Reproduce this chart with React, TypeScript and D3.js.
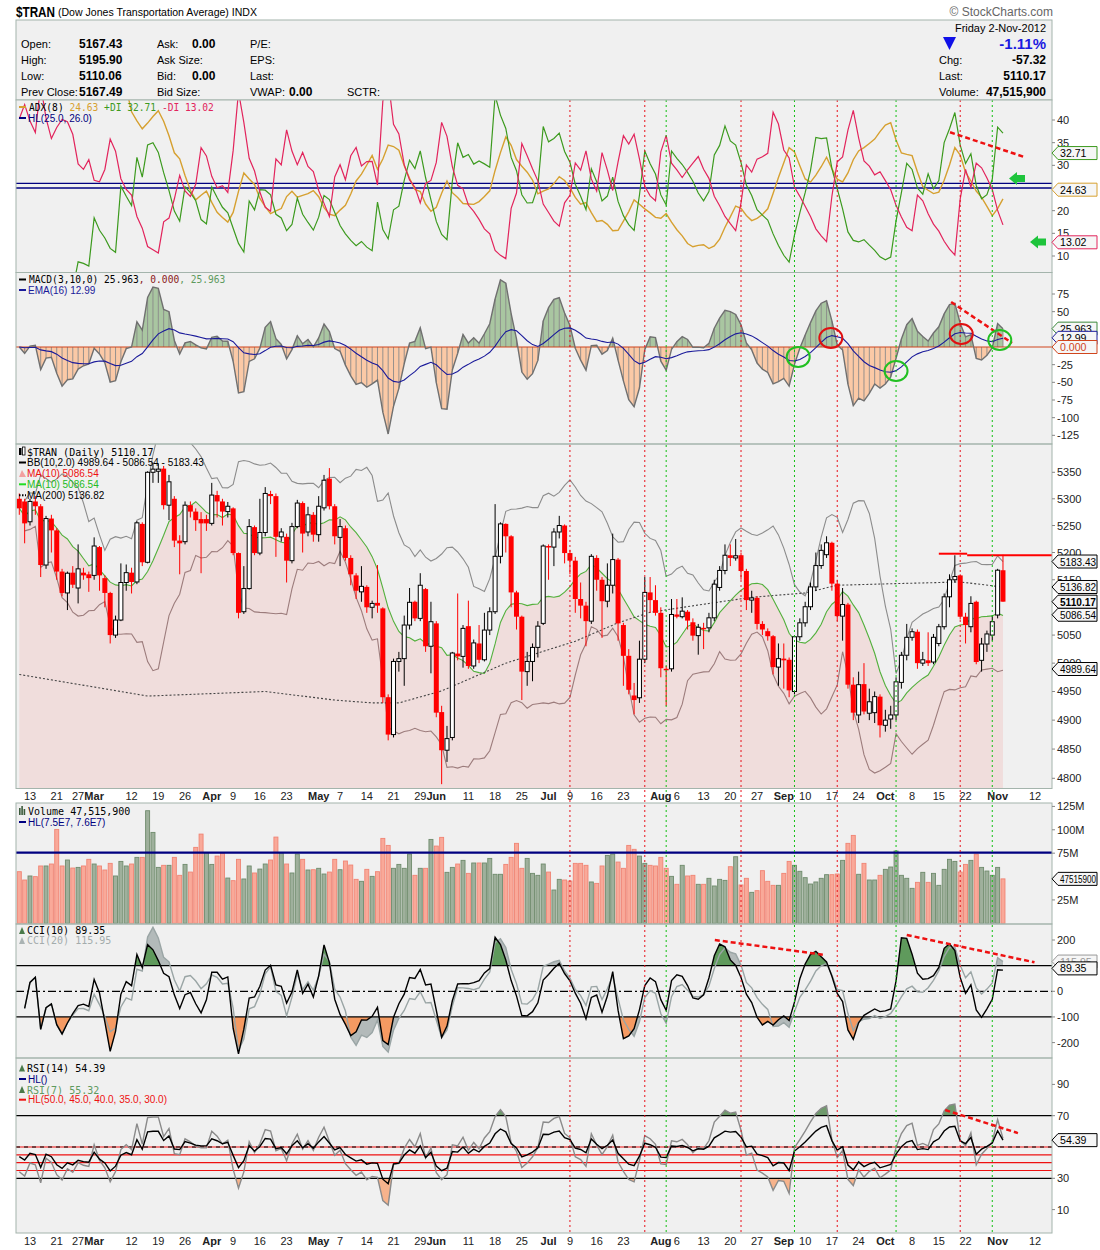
import React from "react";
import * as d3 from "d3";

// ---------- data (trading day index: 0 = 13-Feb-2012, first entry = day -2) ----------
const FIRST_DAY = -2;

const opens = [
  5300, 5295, 5257, 5295, 5286, 5177, 5263, 5241, 5165, 5126,
  5163, 5135, 5163, 5160, 5158, 5210, 5153, 5126, 5050, 5077,
  5145, 5163, 5146, 5253, 5182, 5350, 5352, 5357, 5288, 5300,
  5222, 5220, 5288, 5276, 5262, 5262, 5254, 5307, 5295, 5276,
  5282, 5199, 5092, 5134, 5247, 5199, 5237, 5309, 5305, 5229,
  5229, 5185, 5248, 5292, 5238, 5270, 5233, 5283, 5338, 5286,
  5228, 5245, 5190, 5158, 5128, 5137, 5100, 5108, 5098, 4940,
  4875, 5003, 5008, 5068, 5110, 5080, 5133, 5030, 5071, 4914,
  4848, 4870, 5017, 5012, 5066, 4995, 5035, 5006, 5059, 5092,
  5193, 5253, 5230, 5127, 5083, 4985, 5003, 5028, 5071, 5212,
  5210, 5238, 5250, 5199, 5185, 5115, 5103, 5075, 5190, 5150,
  5111, 5140, 5187, 5068, 5013, 4943, 4939, 5007, 5127, 5113,
  5090, 4990, 4990, 5087, 5083, 5092, 5073, 5049, 5063, 5063,
  5081, 5136, 5167, 5195, 5190, 5195, 5166, 5113, 5117, 5070,
  5057, 5048, 4993, 5008, 5006, 4950, 5047, 5072, 5101, 5137,
  5176, 5196, 5218, 5143, 5084, 5105, 4962, 4909, 4963, 4912,
  4913, 4941, 4891, 4902, 4909, 4966, 5014, 5046, 5056, 5000,
  5005, 5002, 5035, 5065, 5119, 5150, 5158, 5083, 5065, 5110,
  5005, 5034, 5050, 5086, 5167.43,
];

const closes = [
  5282, 5254, 5295, 5286, 5177, 5263, 5241, 5165, 5126, 5162,
  5141, 5170, 5158, 5153, 5212, 5158, 5126, 5050, 5077, 5145,
  5163, 5146, 5255, 5182, 5350, 5356, 5356, 5288, 5332, 5222,
  5217, 5288, 5276, 5260, 5254, 5254, 5307, 5295, 5276, 5286,
  5199, 5090, 5134, 5248, 5199, 5237, 5310, 5305, 5229, 5238,
  5185, 5248, 5292, 5235, 5270, 5233, 5286, 5335, 5286, 5230,
  5248, 5190, 5160, 5130, 5138, 5100, 5107, 5103, 4940, 4875,
  5003, 5008, 5068, 5109, 5080, 5140, 5030, 5074, 4913, 4848,
  4868, 5018, 5012, 5062, 4995, 5036, 5006, 5059, 5092, 5193,
  5253, 5230, 5127, 5083, 4985, 5003, 5028, 5066, 5212, 5210,
  5238, 5250, 5199, 5185, 5115, 5103, 5075, 5193, 5150, 5111,
  5140, 5187, 5071, 5013, 4953, 4935, 5007, 5127, 5113, 5090,
  4991, 4988, 5087, 5083, 5093, 5076, 5049, 5064, 5061, 5081,
  5142, 5167, 5195, 5190, 5194, 5166, 5113, 5117, 5070, 5060,
  5048, 4993, 5008, 5005, 4952, 5047, 5072, 5101, 5137, 5176,
  5204, 5218, 5143, 5084, 5105, 4962, 4913, 4962, 4915, 4932,
  4941, 4891, 4900, 4909, 4967, 5014, 5046, 5056, 5000, 5006,
  5000, 5046, 5065, 5119, 5150, 5156, 5083, 5068, 5107, 5002,
  5034, 5052, 5074, 5167.49, 5110.17,
];

const highs = [
  5310, 5300, 5300, 5305, 5290, 5268, 5270, 5245, 5170, 5165,
  5175, 5215, 5172, 5165, 5228, 5212, 5158, 5128, 5085, 5180,
  5178, 5172, 5258, 5256, 5352, 5368, 5366, 5362, 5345, 5305,
  5232, 5295, 5295, 5282, 5275, 5270, 5330, 5315, 5300, 5294,
  5284, 5200, 5175, 5262, 5250, 5300, 5322, 5315, 5310, 5245,
  5235, 5255, 5298, 5295, 5285, 5275, 5305, 5345, 5358, 5290,
  5262, 5250, 5195, 5162, 5175, 5140, 5112, 5177, 5100, 4945,
  5008, 5020, 5085, 5135, 5112, 5162, 5135, 5110, 5075, 4925,
  4890, 5020, 5125, 5068, 5112, 5042, 5068, 5090, 5100, 5290,
  5256, 5254, 5232, 5130, 5085, 5020, 5035, 5075, 5215, 5215,
  5245, 5268, 5252, 5205, 5192, 5145, 5110, 5197, 5195, 5155,
  5180, 5235, 5190, 5072, 5025, 4965, 5040, 5155, 5155, 5140,
  5100, 4995, 5115, 5115, 5118, 5095, 5080, 5070, 5072, 5090,
  5150, 5175, 5215, 5215, 5225, 5200, 5170, 5130, 5120, 5075,
  5062, 5050, 5035, 5035, 5010, 5050, 5080, 5110, 5145, 5200,
  5215, 5230, 5220, 5150, 5135, 5108, 4975, 4985, 5000, 4955,
  4950, 4945, 4918, 4925, 4975, 5020, 5070, 5062, 5060, 5020,
  5055, 5052, 5070, 5125, 5160, 5195, 5160, 5090, 5120, 5112,
  5045, 5058, 5085, 5170, 5195.9,
];

const lows = [
  5270, 5217, 5250, 5270, 5155, 5170, 5200, 5150, 5120, 5095,
  5135, 5107, 5150, 5128, 5150, 5130, 5100, 5035, 5045, 5075,
  5130, 5125, 5142, 5175, 5180, 5330, 5330, 5280, 5260, 5210,
  5160, 5215, 5265, 5240, 5162, 5240, 5250, 5265, 5250, 5265,
  5195, 5080, 5088, 5132, 5195, 5195, 5230, 5290, 5192, 5220,
  5145, 5180, 5245, 5200, 5230, 5220, 5220, 5278, 5280, 5215,
  5175, 5185, 5140, 5115, 5110, 5090, 5080, 5090, 4930, 4865,
  4870, 4985, 4960, 5060, 5075, 5075, 5020, 4982, 4905, 4790,
  4828, 4865, 5005, 4992, 4990, 4990, 5000, 5003, 5050, 5088,
  5180, 5200, 5100, 5060, 4935, 4960, 4968, 5010, 5068, 5150,
  5175, 5226, 5180, 5160, 5090, 5080, 5030, 5070, 5130, 5045,
  5100, 5125, 5040, 4960, 4945, 4910, 4930, 5000, 5090, 5085,
  4975, 4925, 4985, 5080, 5080, 5060, 5040, 5015, 5025, 5055,
  5075, 5130, 5160, 5175, 5185, 5150, 5095, 5090, 5060, 5050,
  5040, 4980, 4960, 4955, 4940, 4945, 5040, 5065, 5095, 5130,
  5170, 5190, 5130, 5075, 5040, 4955, 4900, 4895, 4910, 4900,
  4895, 4870, 4880, 4885, 4900, 4955, 5005, 5040, 4990, 4995,
  4995, 4998, 5030, 5060, 5100, 5145, 5078, 5035, 5055, 4998,
  4985, 5020, 5040, 5080, 5110.06,
];

// volume in millions of shares
const volumesM = [
  55.2, 46.3, 50.6, 49.9, 61.3, 61.3, 63.4, 100.4, 61.3, 67.7,
  59.1, 59.8, 61.3, 68.4, 63.4, 61.3, 57.0, 64.1, 50.6, 66.2,
  61.3, 63.4, 70.5, 70.5, 120.4, 97.2, 59.8, 62.0, 62.0, 70.5,
  51.3, 63.0, 54.8, 81.2, 95.4, 75.5, 63.0, 71.9, 74.8, 48.4,
  45.6, 68.4, 47.4, 61.3, 53.8, 58.0, 63.4, 67.7, 92.2, 75.5,
  63.4, 53.8, 74.1, 68.4, 57.0, 57.3, 58.8, 52.7, 54.8, 68.4,
  57.3, 66.6, 62.3, 47.0, 44.9, 57.7, 50.2, 55.2, 90.8, 83.3,
  58.8, 63.0, 58.8, 74.1, 51.3, 58.8, 58.8, 89.7, 82.6, 91.9,
  54.5, 59.8, 63.4, 67.3, 53.4, 64.5, 64.5, 64.5, 69.4, 52.4,
  52.4, 63.0, 70.5, 85.5, 58.8, 69.4, 53.4, 51.3, 63.4, 54.8,
  35.6, 47.0, 46.3, 45.2, 64.1, 64.1, 62.0, 44.2, 42.7, 61.3,
  72.6, 74.1, 65.5, 58.8, 83.3, 79.1, 71.9, 64.1, 62.0, 61.3,
  70.5, 58.8, 50.2, 41.7, 62.0, 50.6, 51.3, 41.7, 41.7, 48.1,
  39.9, 47.0, 45.9, 60.5, 71.2, 41.0, 48.1, 33.1, 34.9, 56.3,
  44.9, 40.6, 40.6, 53.4, 66.2, 62.0, 55.6, 48.8, 42.0, 44.2,
  48.1, 52.0, 52.0, 52.7, 67.3, 85.5, 94.0, 52.4, 64.1, 46.3,
  46.3, 51.3, 57.7, 60.2, 77.3, 51.3, 48.1, 37.4, 43.8, 54.5,
  43.8, 53.4, 40.6, 57.7, 68.4, 66.2, 54.8, 63.0, 67.3, 74.1,
  59.8, 55.9, 51.3, 59.8, 47.5,
];

const ma200Days = [-2, 22, 44, 57, 64, 69, 77, 89, 102, 110, 116, 127, 135, 145, 151, 162, 174, 182];
const ma200Values = [4980, 4942, 4950, 4935, 4930, 4930, 4951, 5000, 5039, 5072, 5091, 5107, 5118, 5126, 5140, 5143, 5146, 5136.82];

const tickDays = [0, 5, 9, 12, 19, 24, 29, 34, 38, 43, 48, 54, 58, 63, 68, 73, 76, 82, 87, 92, 97, 101, 106, 111, 118, 121, 126, 131, 136, 141, 145, 150, 155, 160, 165, 170, 175, 181, 188];
const tickLabels = ["13", "21", "27", "Mar", "12", "19", "26", "Apr", "9", "16", "23", "May", "7", "14", "21", "29", "Jun", "11", "18", "25", "Jul", "9", "16", "23", "Aug", "6", "13", "20", "27", "Sep", "10", "17", "24", "Oct", "8", "15", "22", "Nov", "12"];

const redMarkerDays = [101, 115, 133, 151, 174];
const greenMarkerDays = [119, 143, 162, 180];

// right-axis tick labels that are not covered by value boxes
const adxTicks = [10, 15, 20, 30, 35, 40];
const macdTicks = [75, 50, -25, -50, -75, -100, -125];
const priceTicks = [5350, 5300, 5250, 5200, 5150, 5050, 5000, 4950, 4900, 4850, 4800];
const volTicks = [25, 75, 100, 125];
const cciTicks = [200, 0, -100, -200];
const rsiTicks = [10, 30, 70, 90];

// ---------- indicator helpers ----------
function rollMean(a: number[], n: number) {
  return a.map((_, i) => d3.mean(a.slice(Math.max(0, i - n + 1), i + 1)) as number);
}
function rollStd(a: number[], n: number) {
  return a.map((_, i) => {
    const w = a.slice(Math.max(0, i - n + 1), i + 1);
    const m = d3.mean(w) as number;
    return Math.sqrt(d3.mean(w.map((v) => (v - m) ** 2)) as number);
  });
}
function ema(a: number[], n: number) {
  const k = 2 / (n + 1);
  const out: number[] = [];
  a.forEach((v, i) => out.push(i === 0 ? v : v * k + out[i - 1] * (1 - k)));
  return out;
}
function rsi(c: number[], n: number) {
  const ch = c.map((v, i) => (i === 0 ? 0 : v - c[i - 1]));
  let ag = d3.mean(ch.slice(1, n + 1).map((d) => Math.max(d, 0))) as number;
  let al = d3.mean(ch.slice(1, n + 1).map((d) => Math.max(-d, 0))) as number;
  const out: number[] = [];
  ch.forEach((d, i) => {
    if (i > 0) {
      ag = (ag * (n - 1) + Math.max(d, 0)) / n;
      al = (al * (n - 1) + Math.max(-d, 0)) / n;
    }
    out.push(al === 0 ? 100 : 100 - 100 / (1 + ag / al));
  });
  return out;
}
function cci(tp: number[], n: number) {
  return tp.map((v, i) => {
    const w = tp.slice(Math.max(0, i - n + 1), i + 1);
    const m = d3.mean(w) as number;
    const md = d3.mean(w.map((t) => Math.abs(t - m))) as number;
    return md === 0 ? 0 : (v - m) / (0.015 * md);
  });
}
function dmi(h: number[], l: number[], c: number[], n: number) {
  const len = c.length;
  const tr: number[] = [], pdm: number[] = [], mdm: number[] = [];
  for (let i = 0; i < len; i++) {
    if (i === 0) { tr.push(h[0] - l[0]); pdm.push(0); mdm.push(0); continue; }
    tr.push(Math.max(h[i] - l[i], Math.abs(h[i] - c[i - 1]), Math.abs(l[i] - c[i - 1])));
    const up = h[i] - h[i - 1], dn = l[i - 1] - l[i];
    pdm.push(up > dn && up > 0 ? up : 0);
    mdm.push(dn > up && dn > 0 ? dn : 0);
  }
  let sT = (d3.mean(tr.slice(1, n + 1)) as number) * n;
  let sP = (d3.mean(pdm.slice(1, n + 1)) as number) * n;
  let sM = (d3.mean(mdm.slice(1, n + 1)) as number) * n;
  const plus: number[] = [], minus: number[] = [], dx: number[] = [];
  for (let i = 0; i < len; i++) {
    if (i > 0) { sT = sT - sT / n + tr[i]; sP = sP - sP / n + pdm[i]; sM = sM - sM / n + mdm[i]; }
    const p = (100 * sP) / sT, m = (100 * sM) / sT;
    plus.push(p); minus.push(m);
    dx.push(p + m ? (100 * Math.abs(p - m)) / (p + m) : 0);
  }
  let a = d3.mean(dx.slice(1, n + 1)) as number;
  const adxv: number[] = [];
  dx.forEach((d, i) => { if (i > 0) a = (a * (n - 1) + d) / n; adxv.push(a); });
  return { plus, minus, adx: adxv };
}

// ---------- styles ----------
const mono = "'DejaVu Sans Mono', monospace";
const sans = "'Liberation Sans', Arial, sans-serif";
const BORDER = "#a4b4ac";
const PANEL_BG = "#f0f0f0";
const L = 16, R = 1052;

function ValBox(props: { y: number; text: string; stroke: string; color?: string; fill?: string; bold?: boolean }) {
  const { y, text, stroke, color = "#000", fill = "#f6f6f6", bold } = props;
  const tl = Math.min(text.length * 5.3, 36);
  return (
    <g>
      <path d={`M${R},${y} L${R + 6},${y - 6.5} L1097,${y - 6.5} L1097,${y + 6.5} L${R + 6},${y + 6.5} Z`} fill={fill} stroke={stroke} strokeWidth={1} />
      <text x={R + 8} y={y + 4} fontSize={11} fontFamily={sans} fill={color} fontWeight={bold ? "bold" : "normal"}
        textLength={tl} lengthAdjust="spacingAndGlyphs">{text}</text>
    </g>
  );
}

export default function App() {
  const days = closes.map((_, k) => k + FIRST_DAY);
  const x = d3.scaleLinear().domain([0, 188]).range([30, 30 + 188 * 5.346]);
  const P = {
    adx: [100, 272.5], macd: [272.5, 444], price: [444, 788.5],
    vol: [803, 924], cci: [924, 1058], rsi: [1058, 1233],
  } as Record<string, number[]>;

  const yAdx = d3.scaleLinear().domain([10, 40]).range([256, 120]);
  const yMacd = d3.scaleLinear().domain([0, 75]).range([347, 294]);
  const yPrice = d3.scaleLog().domain([4800, 5350]).range([778.3, 472.3]);
  const yVol = d3.scaleLinear().domain([0, 75.5]).range([923.3, 852.7]);
  const yCci = d3.scaleLinear().domain([0, 100]).range([991.3, 965.65]);
  const yRsi = d3.scaleLinear().domain([30, 70]).range([1178.3, 1115.7]);

  // indicators
  const ma10 = rollMean(closes, 10);
  const sd10 = rollStd(closes, 10);
  const bbU = ma10.map((m, i) => m + 2 * sd10[i]);
  const bbL = ma10.map((m, i) => m - 2 * sd10[i]);
  const e3 = ema(closes, 3), e10 = ema(closes, 10);
  const macd = e3.map((v, i) => v - e10[i]);
  const macdEma = ema(macd, 16);
  const { plus, minus, adx } = dmi(highs, lows, closes, 8);
  const tp = closes.map((c, i) => (highs[i] + lows[i] + c) / 3);
  const cci10 = cci(tp, 10), cci20 = cci(tp, 20);
  const rsi14 = rsi(closes, 14), rsi7 = rsi(closes, 7);

  const line = (vals: number[], y: (v: number) => number, start = 0) =>
    d3.line<number>().defined((_, k) => k >= start).x((_, k) => x(days[k])).y((v) => y(v))(vals) || "";
  const band = (vals: number[], y: (v: number) => number, base: number) =>
    d3.area<number>().x((_, k) => x(days[k])).y0(y(base)).y1((v) => y(v))(vals) || "";

  const ma200Line = d3.line<number>().x((d) => x(d)).y((_, k) => yPrice(ma200Values[k]))(ma200Days) || "";
  const maArea = d3.area<number>().x((_, k) => x(days[k])).y0(P.price[1]).y1((v) => yPrice(v))(ma10) || "";

  const panel = (key: string) => (
    <rect key={key} x={L} y={P[key][0]} width={R - L} height={P[key][1] - P[key][0]} fill={PANEL_BG} stroke="none" />
  );
  const border = (key: string) => (
    <rect key={"b" + key} x={L} y={P[key][0]} width={R - L} height={P[key][1] - P[key][0]} fill="none" stroke={BORDER} strokeWidth={1} />
  );
  const axisLabels = (ticks: number[], y: (v: number) => number, fmt: (v: number) => string, key: string) =>
    ticks.map((t) => (
      <g key={key + t}>
        <line x1={R} x2={R + 3} y1={y(t)} y2={y(t)} stroke="#888" />
        <text x={R + 5} y={y(t) + 4} fontSize={11} fontFamily={sans} fill="#222">{fmt(t)}</text>
      </g>
    ));

  const dateLabels = (yy: number, key: string) =>
    tickDays.map((d, k) => {
      const isMonth = isNaN(Number(tickLabels[k]));
      return (
        <text key={key + k} x={x(d)} y={yy} fontSize={11} fontFamily={sans} textAnchor="middle" fontWeight={isMonth ? "bold" : "normal"} fill="#222">
          {tickLabels[k]}
        </text>
      );
    });

  const W = 1100, H = 1250;
  const cw = 5; // candle body width

  return (
    <div>
      <style>{"body{margin:0;background:#fff}"}</style>
      <svg width={W} height={H} viewBox={`0 0 ${W} ${H}`} style={{ display: "block" }}>
        <defs>
          {Object.keys(P).map((k) => (
            <clipPath id={"cp-" + k} key={k}>
              <rect x={L} y={P[k][0]} width={R - L} height={P[k][1] - P[k][0]} />
            </clipPath>
          ))}
          <clipPath id="cp-macd-pos"><rect x={L} y={P.macd[0]} width={R - L} height={yMacd(0) - P.macd[0]} /></clipPath>
          <clipPath id="cp-macd-neg"><rect x={L} y={yMacd(0)} width={R - L} height={P.macd[1] - yMacd(0)} /></clipPath>
          <clipPath id="cp-cci-up"><rect x={L} y={P.cci[0]} width={R - L} height={yCci(100) - P.cci[0]} /></clipPath>
          <clipPath id="cp-cci-dn"><rect x={L} y={yCci(-100)} width={R - L} height={P.cci[1] - yCci(-100)} /></clipPath>
          <clipPath id="cp-rsi-up"><rect x={L} y={P.rsi[0]} width={R - L} height={yRsi(70) - P.rsi[0]} /></clipPath>
          <clipPath id="cp-rsi-dn"><rect x={L} y={yRsi(30)} width={R - L} height={P.rsi[1] - yRsi(30)} /></clipPath>
        </defs>
        <rect x={0} y={0} width={W} height={H} fill="#fff" />

        {/* ---------- header ---------- */}
        <text x={16} y={17} fontSize={14} fontWeight="bold" fontFamily={sans} fill="#000" textLength={39} lengthAdjust="spacingAndGlyphs">$TRAN</text>
        <text x={58} y={16} fontSize={11} fontFamily={sans} fill="#000" textLength={199} lengthAdjust="spacingAndGlyphs">(Dow Jones Transportation Average) INDX</text>
        <text x={1053} y={16} fontSize={12} fontFamily={sans} fill="#666" textAnchor="end">© StockCharts.com</text>
        <rect x={L} y={20} width={R - L} height={80} fill={PANEL_BG} stroke={BORDER} />
        {[
          ["Open:", "5167.43", "Ask:", "0.00", "P/E:", ""],
          ["High:", "5195.90", "Ask Size:", "", "EPS:", ""],
          ["Low:", "5110.06", "Bid:", "0.00", "Last:", ""],
          ["Prev Close:", "5167.49", "Bid Size:", "", "VWAP:", "0.00"],
        ].map((row, r) => (
          <g key={"info" + r} fontFamily={sans} fontSize={11} fill="#000">
            <text x={21} y={48 + r * 16}>{row[0]}</text>
            <text x={79} y={48 + r * 16} fontWeight="bold" fontSize={12}>{row[1]}</text>
            <text x={157} y={48 + r * 16}>{row[2]}</text>
            <text x={192} y={48 + r * 16} fontWeight="bold" fontSize={12}>{row[3]}</text>
            <text x={250} y={48 + r * 16}>{row[4]}</text>
            <text x={289} y={48 + r * 16} fontWeight="bold" fontSize={12}>{row[5]}</text>
          </g>
        ))}
        <text x={347} y={96} fontFamily={sans} fontSize={11}>SCTR:</text>
        <text x={1046} y={32} fontFamily={sans} fontSize={11} textAnchor="end">Friday  2-Nov-2012</text>
        <path d="M943,37 L956,37 L949.5,50 Z" fill="#1010e8" />
        <text x={1046} y={49} fontFamily={sans} fontSize={15} fontWeight="bold" fill="#1a1ae0" textAnchor="end">-1.11%</text>
        {[["Chg:", "-57.32"], ["Last:", "5110.17"], ["Volume:", "47,515,900"]].map((r, k) => (
          <g key={"rinfo" + k} fontFamily={sans} fontSize={11}>
            <text x={939} y={64 + k * 16}>{r[0]}</text>
            <text x={1046} y={64 + k * 16} textAnchor="end" fontWeight="bold" fontSize={12}>{r[1]}</text>
          </g>
        ))}

        {/* ---------- panel backgrounds ---------- */}
        {Object.keys(P).map((k) => panel(k))}

        {/* ---------- ADX panel ---------- */}
        <g clipPath="url(#cp-adx)">
          <line x1={L} x2={R} y1={yAdx(25)} y2={yAdx(25)} stroke="#000080" strokeWidth={1.3} />
          <line x1={L} x2={R} y1={yAdx(26)} y2={yAdx(26)} stroke="#000080" strokeWidth={1.3} />
          <path d={line(adx, yAdx)} fill="none" stroke="#d6a030" strokeWidth={1.4} />
          <path d={line(plus, yAdx)} fill="none" stroke="#3c9a1e" strokeWidth={1.2} />
          <path d={line(minus, yAdx)} fill="none" stroke="#e2245c" strokeWidth={1.2} />
        </g>
        <g fontFamily={mono} fontSize={9.6}>
          <line x1={19} x2={26} y1={107} y2={107} stroke="#d6a030" strokeWidth={2} />
          <text x={29} y={110.5} fill="#000">ADX(8) <tspan fill="#d6a030">24.63</tspan> <tspan fill="#3c9a1e">+DI 32.71</tspan> <tspan fill="#e2245c">-DI 13.02</tspan></text>
        </g>
        <line x1={19} x2={26} y1={118} y2={118} stroke="#000080" strokeWidth={2} />
        <text x={28} y={121.5} fontFamily={sans} fontSize={10} fill="#000080">HL(25.0, 26.0)</text>

        {/* ---------- MACD panel ---------- */}
        <g clipPath="url(#cp-macd)">
          <g clipPath="url(#cp-macd-pos)"><path d={band(macd, yMacd, 0)} fill="#a9c6a1" /></g>
          <g clipPath="url(#cp-macd-neg)"><path d={band(macd, yMacd, 0)} fill="#fbc9a6" /></g>
          {macd.map((v, k) => (
            <line key={"mb" + k} x1={x(days[k])} x2={x(days[k])} y1={yMacd(0)} y2={yMacd(v)} stroke="#8a8a8a" strokeWidth={0.9} />
          ))}
          <line x1={L} x2={R} y1={yMacd(0)} y2={yMacd(0)} stroke="#d0451c" strokeWidth={1.2} />
          <path d={line(macd, yMacd)} fill="none" stroke="#707070" strokeWidth={1.4} />
          <path d={line(macdEma, yMacd)} fill="none" stroke="#1a1a9a" strokeWidth={1.1} />
        </g>
        <g fontFamily={mono} fontSize={9.6}>
          <line x1={19} x2={26} y1={279.5} y2={279.5} stroke="#000" strokeWidth={2} />
          <text x={29} y={283} fill="#000">MACD(3,10,0) 25.963<tspan fill="#8b1a1a">, 0.000</tspan><tspan fill="#5e9a5e">, 25.963</tspan></text>
        </g>
        <line x1={19} x2={26} y1={290} y2={290} stroke="#1a1a9a" strokeWidth={2} />
        <text x={28} y={293.5} fontFamily={sans} fontSize={10} fill="#1a1a9a">EMA(16) 12.99</text>

        {/* ---------- price panel ---------- */}
        <g clipPath="url(#cp-price)">
          <path d={maArea} fill="#f0dddc" />
          <path d={line(bbU, yPrice, 1)} fill="none" stroke="#8c8c8c" strokeWidth={1.1} />
          <path d={line(bbL, yPrice, 1)} fill="none" stroke="#9c7c7c" strokeWidth={1.1} />
          <path d={line(ma10, yPrice)} fill="none" stroke="#52b03c" strokeWidth={1.1} />
          <path d={ma200Line} fill="none" stroke="#444" strokeWidth={1.1} strokeDasharray="2,2" />
          {closes.map((c, k) => {
            const o = opens[k];
            const up = c >= o;
            const cx = x(days[k]);
            const col = up ? "#000" : "#ff0000";
            const top = yPrice(Math.max(o, c)), bot = yPrice(Math.min(o, c));
            return (
              <g key={"c" + k}>
                <line x1={cx} x2={cx} y1={yPrice(highs[k])} y2={yPrice(lows[k])} stroke={col} strokeWidth={1} />
                {up ? (
                  <rect x={cx - cw / 2 + 0.5} y={top} width={cw - 1} height={Math.max(bot - top, 1)} fill="#fff" stroke="#000" strokeWidth={1} />
                ) : (
                  <rect x={cx - cw / 2} y={top} width={cw} height={Math.max(bot - top, 1.5)} fill="#ff0000" />
                )}
              </g>
            );
          })}
          <line x1={x(170)} x2={x(175.3)} y1={yPrice(5197.8)} y2={yPrice(5197.8)} stroke="#f00" strokeWidth={2} />
          <line x1={x(175.3)} x2={R} y1={yPrice(5194.8)} y2={yPrice(5194.8)} stroke="#f00" strokeWidth={2} />
        </g>
        <g fontSize={10}>
          <rect x={19} y={448} width={2.5} height={7} fill="#000" />
          <rect x={22.5} y={447} width={2.5} height={8} fill="#fff" stroke="#000" strokeWidth={0.8} />
          <text x={27} y={455.5} fontFamily={mono} fontSize={10} fill="#000">$TRAN (Daily) 5110.17</text>
          <line x1={19} x2={26} y1={462.5} y2={462.5} stroke="#000" strokeWidth={2} />
          <text x={27} y={466} fontFamily={sans} fill="#000">BB(10,2.0) 4989.64 - 5086.54 - 5183.43</text>
          <path d="M19,477 L22,470 L26,477 Z" fill="#f2a0a0" />
          <text x={27} y={477} fontFamily={sans} fill="#ee1111">MA(10) 5086.54</text>
          <line x1={19} x2={26} y1={484.3} y2={484.3} stroke="#22dd22" strokeWidth={2} />
          <text x={27} y={488} fontFamily={sans} fill="#22bb22">MA(10) 5086.54</text>
          <line x1={19} x2={26} y1={495.3} y2={495.3} stroke="#000" strokeWidth={2} strokeDasharray="1.5,1.5" />
          <text x={27} y={499} fontFamily={sans} fill="#000">MA(200) 5136.82</text>
        </g>

        {/* ---------- volume panel ---------- */}
        <g clipPath="url(#cp-vol)">
          {volumesM.map((v, k) => {
            const upDay = k === 0 ? closes[k] >= opens[k] : closes[k] >= closes[k - 1];
            const cx = x(days[k]);
            return (
              <rect key={"v" + k} x={cx - 2} y={yVol(v)} width={4} height={yVol(0) - yVol(v)}
                fill={upDay ? "#9fb09c" : "#f9a999"} stroke={upDay ? "#6f8b6c" : "#f08474"} strokeWidth={0.9} />
            );
          })}
          <line x1={L} x2={R} y1={yVol(75)} y2={yVol(75)} stroke="#000080" strokeWidth={1.3} />
          <line x1={L} x2={R} y1={yVol(76)} y2={yVol(76)} stroke="#000080" strokeWidth={1.3} />
        </g>
        <g>
          <rect x={19} y={808} width={1.6} height={7} fill="#3a5a3a" />
          <rect x={21.3} y={806} width={1.6} height={9} fill="#3a5a3a" />
          <rect x={23.6} y={809} width={1.6} height={6} fill="#3a5a3a" />
          <text x={28} y={814.5} fontFamily={mono} fontSize={10} fill="#000">Volume 47,515,900</text>
          <line x1={19} x2={26} y1={822} y2={822} stroke="#000080" strokeWidth={2} />
          <text x={28} y={825.5} fontFamily={sans} fontSize={10} fill="#000080">HL(7.5E7, 7.6E7)</text>
        </g>

        {/* ---------- CCI panel ---------- */}
        <g clipPath="url(#cp-cci)">
          <g clipPath="url(#cp-cci-up)">
            <path d={band(cci20, yCci, 100)} fill="#b3baba" />
            <path d={band(cci10, yCci, 100)} fill="#5f9a5c" />
          </g>
          <g clipPath="url(#cp-cci-dn)">
            <path d={band(cci20, yCci, -100)} fill="#b3baba" />
            <path d={band(cci10, yCci, -100)} fill="#f59a62" />
          </g>
          <line x1={L} x2={R} y1={yCci(100)} y2={yCci(100)} stroke="#000" strokeWidth={1.2} />
          <line x1={L} x2={R} y1={yCci(-100)} y2={yCci(-100)} stroke="#000" strokeWidth={1.2} />
          <line x1={L} x2={R} y1={yCci(0)} y2={yCci(0)} stroke="#000" strokeWidth={1.2} strokeDasharray="8,3,2,3" />
          <path d={line(cci20, yCci, 1)} fill="none" stroke="#9aa5a5" strokeWidth={1.4} />
          <path d={line(cci10, yCci, 1)} fill="none" stroke="#000" strokeWidth={1.4} />
        </g>
        <g>
          <path d="M19,934 L22,927 L25,934 Z" fill="#4a7a4a" />
          <text x={27} y={934} fontFamily={mono} fontSize={10} fill="#000">CCI(10) 89.35</text>
          <path d="M19,944 L22,937 L25,944 Z" fill="#aab3b3" />
          <text x={27} y={944} fontFamily={mono} fontSize={10} fill="#a4acac">CCI(20) 115.95</text>
        </g>

        {/* ---------- RSI panel ---------- */}
        <g clipPath="url(#cp-rsi)">
          <g clipPath="url(#cp-rsi-up)">
            <path d={band(rsi7, yRsi, 70)} fill="#6f9a6c" />
            <path d={band(rsi14, yRsi, 70)} fill="#6f9a6c" />
          </g>
          <g clipPath="url(#cp-rsi-dn)">
            <path d={band(rsi7, yRsi, 30)} fill="#f7b38c" />
            <path d={band(rsi14, yRsi, 30)} fill="#f7b38c" />
          </g>
          {[50, 45, 40, 35].map((v) => (
            <line key={"rl" + v} x1={L} x2={R} y1={yRsi(v)} y2={yRsi(v)} stroke="#ee1111" strokeWidth={1.2} />
          ))}
          <line x1={L} x2={R} y1={yRsi(70)} y2={yRsi(70)} stroke="#000" strokeWidth={1.2} />
          <line x1={L} x2={R} y1={yRsi(30)} y2={yRsi(30)} stroke="#000" strokeWidth={1.2} />
          <line x1={L} x2={R} y1={yRsi(50)} y2={yRsi(50)} stroke="#000" strokeWidth={1.2} strokeDasharray="4,4" />
          <path d={line(rsi7, yRsi)} fill="none" stroke="#8a8a8a" strokeWidth={1.4} />
          <path d={line(rsi14, yRsi)} fill="none" stroke="#000" strokeWidth={1.4} />
        </g>
        <g fontSize={10}>
          <path d="M19,1071.5 L22,1064.5 L25,1071.5 Z" fill="#4a7a4a" />
          <text x={27} y={1072} fontFamily={mono} fill="#000">RSI(14) 54.39</text>
          <line x1={19} x2={26} y1={1079} y2={1079} stroke="#000080" strokeWidth={2} />
          <text x={28} y={1082.5} fontFamily={sans} fill="#000080">HL()</text>
          <path d={"M19,1093 L22,1086 L25,1093 Z"} fill="#4a7a4a" />
          <text x={27} y={1093.5} fontFamily={mono} fill="#5e9a5e">RSI(7) 55.32</text>
          <line x1={19} x2={26} y1={1099.7} y2={1099.7} stroke="#ee1111" strokeWidth={2} />
          <text x={28} y={1103.2} fontFamily={sans} fill="#ee1111">HL(50.0, 45.0, 40.0, 35.0, 30.0)</text>
        </g>

        {/* ---------- vertical event markers ---------- */}
        {redMarkerDays.map((d) => (
          <line key={"rm" + d} x1={x(d)} x2={x(d)} y1={P.adx[0]} y2={P.rsi[1]} stroke="#e8101a" strokeWidth={1} strokeDasharray="2,3" />
        ))}
        {greenMarkerDays.map((d) => (
          <line key={"gm" + d} x1={x(d)} x2={x(d)} y1={P.adx[0]} y2={P.rsi[1]} stroke="#10c010" strokeWidth={1} strokeDasharray="2,3" />
        ))}

        {/* ---------- annotations ---------- */}
        <line x1={x(172.1)} y1={yAdx(37.3)} x2={x(186.1)} y2={yAdx(31.8)} stroke="#ee1111" strokeWidth={2.5} strokeDasharray="5,3" />
        <line x1={x(172.3)} y1={yMacd(63.7)} x2={x(183.7)} y2={yMacd(5.7)} stroke="#ee1111" strokeWidth={2.5} strokeDasharray="5,3" />
        <line x1={x(128.1)} y1={yCci(200)} x2={x(148.8)} y2={yCci(141.5)} stroke="#ee1111" strokeWidth={2.5} strokeDasharray="5,3" />
        <line x1={x(164)} y1={yCci(219.6)} x2={x(187.9)} y2={yCci(113)} stroke="#ee1111" strokeWidth={2.5} strokeDasharray="5,3" />
        <line x1={x(171.2)} y1={yRsi(73.6)} x2={x(184.8)} y2={yRsi(58.9)} stroke="#ee1111" strokeWidth={2.5} strokeDasharray="5,3" />
        {[
          [143.7, -14, "#22c022"], [149.8, 12.7, "#e01010"], [162, -34, "#22c022"], [174.2, 18.4, "#e01010"], [181.4, 9.9, "#22c022"],
        ].map((c, k) => (
          <ellipse key={"circ" + k} cx={x(c[0] as number)} cy={yMacd(c[1] as number)} rx={11.5} ry={10} fill="none" stroke={c[2] as string} strokeWidth={2} />
        ))}
        <path d="M1009,178.5 L1017,172 L1017,175 L1025,175 L1025,182 L1017,182 L1017,185 Z" fill="#1ec43c" />
        <path d="M1030,242 L1038,235.5 L1038,238.5 L1046,238.5 L1046,245.5 L1038,245.5 L1038,248.5 Z" fill="#1ec43c" />

        {/* ---------- borders ---------- */}
        {Object.keys(P).map((k) => border(k))}

        {/* ---------- right axes ---------- */}
        {axisLabels(adxTicks, yAdx, (v) => String(v), "ax")}
        {axisLabels(macdTicks, yMacd, (v) => String(v), "mx")}
        {axisLabels(priceTicks, (v) => yPrice(v), (v) => String(v), "px")}
        {axisLabels(volTicks, yVol, (v) => v + "M", "vx")}
        {axisLabels(cciTicks, yCci, (v) => String(v), "cx")}
        {axisLabels(rsiTicks, yRsi, (v) => String(v), "rx")}

        {/* value boxes */}
        <ValBox y={yAdx(32.71)} text="32.71" stroke="#3c9a1e" />
        <ValBox y={yAdx(24.63)} text="24.63" stroke="#d6a030" />
        <ValBox y={yAdx(13.02)} text="13.02" stroke="#e2245c" />
        <ValBox y={yMacd(25.963)} text="25.963" stroke="#3c8a3c" />
        <ValBox y={yMacd(12.99)} text="12.99" stroke="#1a1a9a" />
        <ValBox y={yMacd(0)} text="0.000" stroke="#d0451c" color="#d0451c" />
        <ValBox y={yPrice(5183.43)} text="5183.43" stroke="#000" />
        <ValBox y={yPrice(5136.82)} text="5136.82" stroke="#000" />
        <ValBox y={yPrice(5086.54)} text="5086.54" stroke="#000" />
        <ValBox y={yPrice(5110.17)} text="5110.17" stroke="#000" bold />
        <ValBox y={yPrice(4989.64)} text="4989.64" stroke="#000" />
        <ValBox y={yVol(47.5159)} text="47515900" stroke="#000" />
        <ValBox y={yCci(115.95)} text="115.95" stroke="#999" color="#999" />
        <ValBox y={yCci(89.35)} text="89.35" stroke="#000" />
        <ValBox y={yRsi(54.39)} text="54.39" stroke="#000" />

        {/* date axes */}
        {dateLabels(800, "dt")}
        {dateLabels(1245, "db")}
      </svg>
    </div>
  );
}
